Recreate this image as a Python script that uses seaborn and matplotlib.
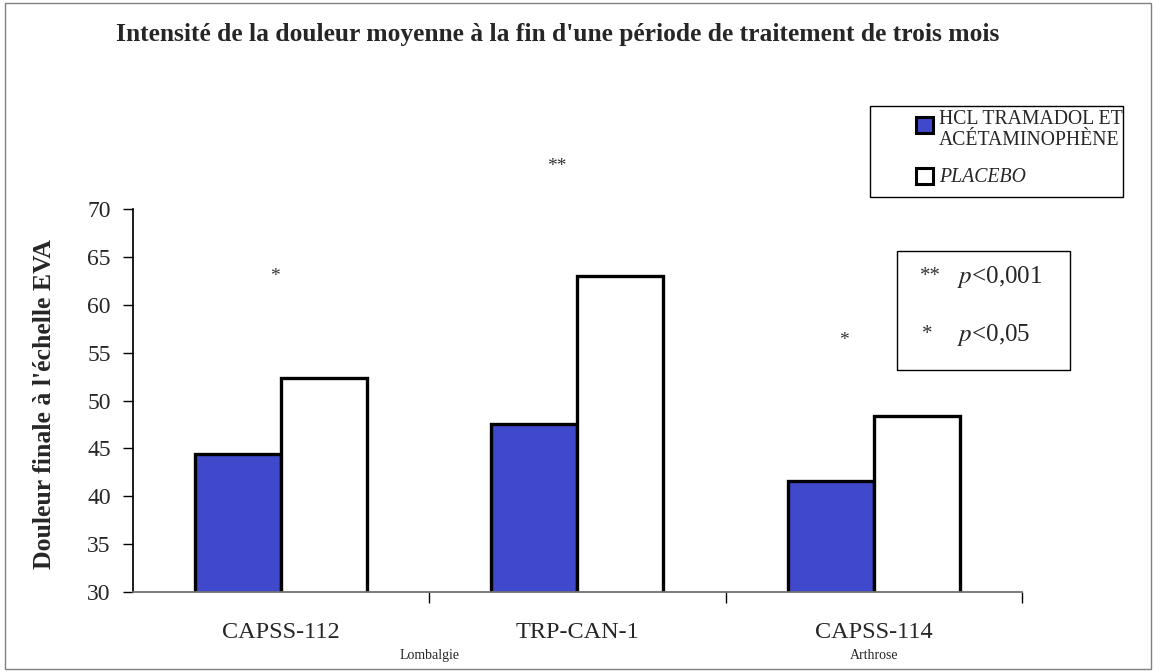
import numpy as np
import pandas as pd
import seaborn as sns
import matplotlib.pyplot as plt
from matplotlib.patches import Rectangle

# valeurs (douleur finale, echelle EVA)
etudes = ['CAPSS-112', 'TRP-CAN-1', 'CAPSS-114']
traitement = [44.4, 47.5, 41.6]
placebo = [52.4, 63.0, 48.4]
groupes = ['HCL TRAMADOL ET\nACÉTAMINOPHÈNE', 'PLACEBO']
couleurs = ['#4049cc', 'white']
signif = ['*', '**', '*']
indications = ['Lombalgie', 'Arthrose']
yticks = [30, 35, 40, 45, 50, 55, 60, 65, 70]

df = pd.DataFrame({
    'etude': etudes * 2,
    'douleur': traitement + placebo,
    'groupe': [groupes[0]] * len(etudes) + [groupes[1]] * len(etudes),
})

sns.set_theme(style='white')
plt.rcParams['font.family'] = ['Liberation Serif', 'DejaVu Serif']
plt.rcParams['mathtext.fontset'] = 'stix'

fig = plt.figure(figsize=(11.56, 6.72), dpi=100)
ax = fig.add_axes([0.115, 0.1195, 0.769, 0.569])

sns.barplot(data=df, x='etude', y='douleur', hue='groupe', hue_order=groupes,
            palette=couleurs, saturation=1, edgecolor='black', linewidth=2.4,
            width=0.58, legend=False, ax=ax)

ax.set_ylim(30, 70)
ax.set_xlim(-0.5, 2.5)
ax.set_yticks(yticks)
sns.despine(ax=ax)
ax.spines['left'].set_color('black')
ax.spines['bottom'].set_color('#707070')
ax.spines['bottom'].set_linewidth(1.3)

ax.tick_params(axis='y', left=True, direction='out', length=7, width=1,
               color='black', labelsize=17, pad=9)
ax.set_xticks(range(len(etudes)))
ax.set_xticklabels(etudes)
ax.tick_params(axis='x', which='major', length=0, pad=22, labelsize=17.5)
ax.set_xticks([0.5, 1.5, 2.5], minor=True)
ax.tick_params(axis='x', which='minor', bottom=True, direction='out',
               length=8, width=1, color='black')

ax.set_xlabel('')
ax.set_ylabel("Douleur finale à l'échelle EVA", fontsize=18.5, fontweight='bold')
ax.yaxis.set_label_coords(-0.087, 0.49)

# etoiles de significativite
for txt, (sx, sy) in zip(signif, [(-0.02, 63), (0.93, 74.5), (1.9, 56.3)]):
    ax.text(sx, sy, txt, ha='center', va='center', fontsize=14,
            color='#333333', clip_on=False)

# indications sous les etudes
trans = ax.get_xaxis_transform()
for txt, ix in zip(indications, [0.5, 2.0]):
    ax.text(ix, -0.166, txt, transform=trans, ha='center', va='center', fontsize=10)

fig.text(0.482, 0.949,
         "Intensité de la douleur moyenne à la fin d'une période de traitement de trois mois",
         ha='center', va='center', fontsize=18.4, fontweight='bold')

# legende
fig.patches.append(Rectangle((0.7526, 0.7068), 0.2189, 0.1354, transform=fig.transFigure,
                             fill=False, edgecolor='black', linewidth=1))
fig.patches.append(Rectangle((0.7924, 0.8021), 0.0147, 0.0238, transform=fig.transFigure,
                             facecolor=couleurs[0], edgecolor='black', linewidth=2.2))
fig.patches.append(Rectangle((0.7924, 0.7262), 0.0147, 0.0238, transform=fig.transFigure,
                             facecolor=couleurs[1], edgecolor='black', linewidth=2.2))
fig.text(0.8123, 0.8365, groupes[0], ha='left', va='top', fontsize=14.2, linespacing=1.18)
fig.text(0.8123, 0.7366, groupes[1], ha='left', va='center', fontsize=14.2, style='italic')

# encadre des seuils p
fig.patches.append(Rectangle((0.7760, 0.4494), 0.1497, 0.1771, transform=fig.transFigure,
                             fill=False, edgecolor='black', linewidth=1))
fig.text(0.7958, 0.5878, '**', ha='left', va='center', fontsize=15, color='#333333')
fig.text(0.8279, 0.5878, r'$p$<0,001', ha='left', va='center', fontsize=18)
fig.text(0.7975, 0.5015, '*', ha='left', va='center', fontsize=15, color='#333333')
fig.text(0.8279, 0.5015, r'$p$<0,05', ha='left', va='center', fontsize=18)

# cadre autour de la figure
fig.patches.append(Rectangle((0.004, 0.004), 0.992, 0.992, transform=fig.transFigure,
                             fill=False, edgecolor='#808080', linewidth=1))

fig.savefig('out.png', dpi=100)
